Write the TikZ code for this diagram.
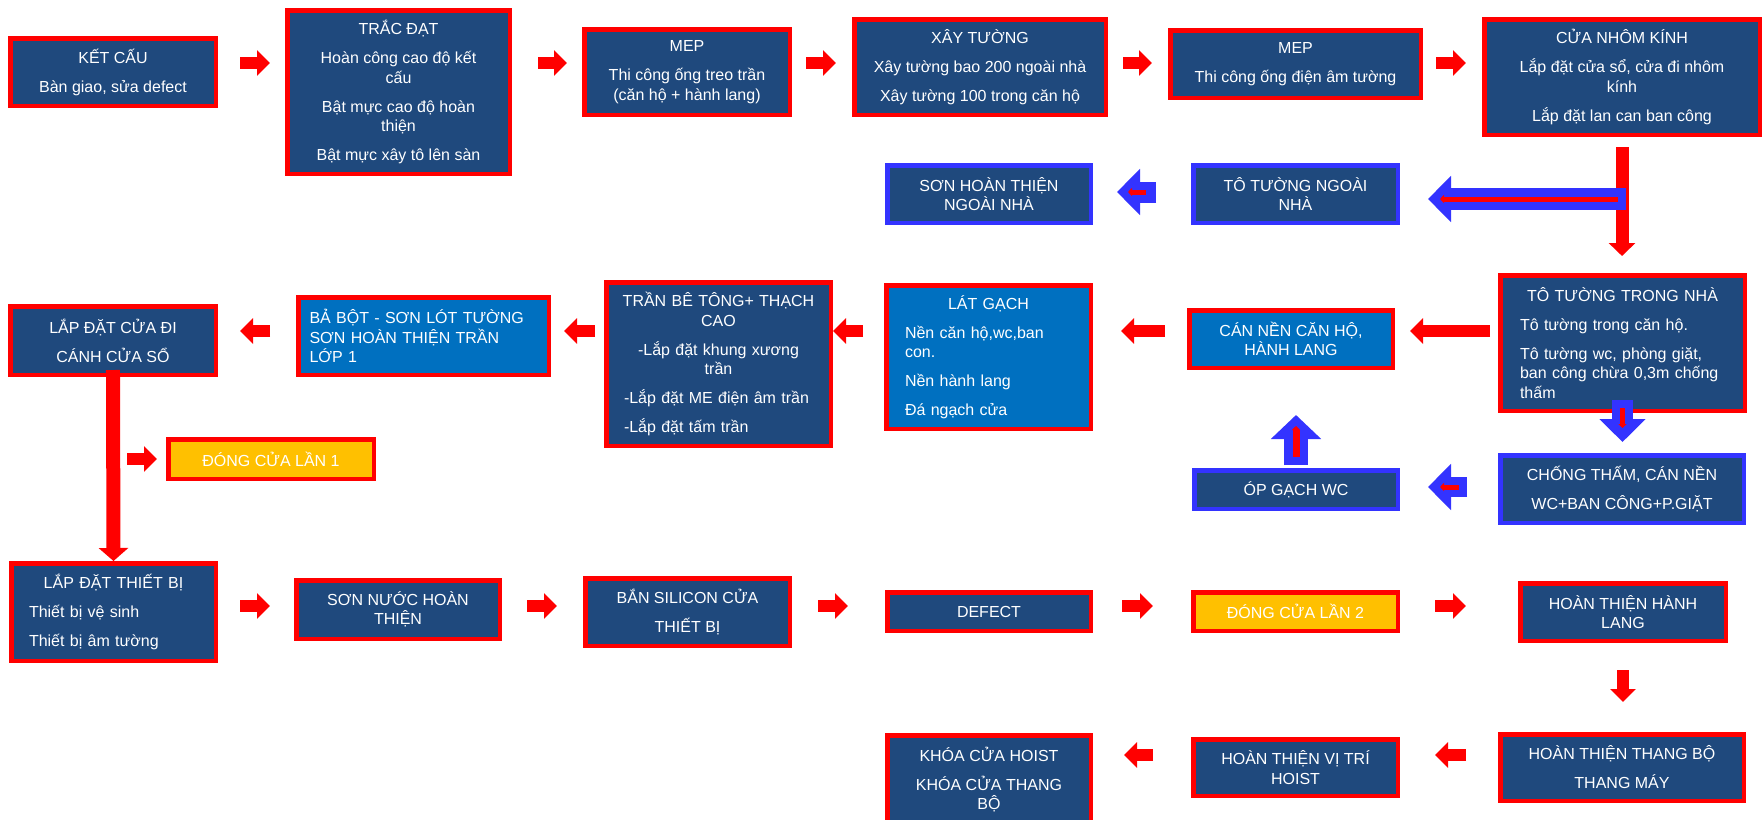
\documentclass[tikz,border=0pt]{standalone}
\usepackage{fontspec}
\setmainfont{Liberation Sans}
\usetikzlibrary{arrows.meta}
\definecolor{boxblue}{RGB}{31,73,125}
\definecolor{boxcyan}{RGB}{0,112,192}
\definecolor{boxyellow}{RGB}{255,192,0}
\definecolor{arrblue}{RGB}{51,51,255}

\begin{document}
\begin{tikzpicture}[x=1pt,y=-1pt,
   box/.style={draw=red,line width=4.5pt,fill=boxblue,text=white,align=center,inner sep=0pt,font=\fontsize{16}{19.5}\selectfont},
   bbox/.style={box,draw=arrblue},
   sz/.style 2 args={minimum width=#1-4.5,minimum height=#2-4.5},
   redarr/.style={draw=red,line width=12pt,-{Triangle[length=13pt,width=25pt]}},
   bluearr/.style={draw=arrblue,line width=21pt,-{Triangle[length=23pt,width=45pt]}},
   redin/.style={draw=red,line width=5pt,-{Triangle[length=4pt,width=8pt]}}]
   \path[use as bounding box,fill=white] (0,0) rectangle (1763,819);

   \node[box,sz={210}{72}] (ketcau) at (113,72) {KẾT CẤU\\[9.5pt]Bàn giao, sửa defect};
   \node[box,sz={227}{168}] (tracdat) at (398.5,92) {TRẮC ĐẠT\\[9.5pt]Hoàn công cao độ kết\\cấu\\[9.5pt]Bật mực cao độ hoàn\\thiện\\[9.5pt]Bật mực xây tô lên sàn};
   \node[box,sz={210}{90}] (mep) at (687,72) {MEP\\[9.5pt]Thi công ống treo trần\\(căn hộ + hành lang)};
   \node[box,sz={256}{100}] (xaytuong) at (980,67) {XÂY TƯỜNG\\[9.5pt]Xây tường bao 200 ngoài nhà\\[9.5pt]Xây tường 100 trong căn hộ};
   \node[box,sz={255}{72}] (mepdien) at (1295.5,64) {MEP\\[9.5pt]Thi công ống điện âm tường};
   \node[box,sz={280}{120}] (cuanhom) at (1622,77) {CỬA NHÔM KÍNH\\[9.5pt]Lắp đặt cửa sổ, cửa đi nhôm\\kính\\[9.5pt]Lắp đặt lan can ban công};

   \node[bbox,sz={208}{62}] (sonngoai) at (989,194) {SƠN HOÀN THIỆN\\NGOÀI NHÀ};
   \node[bbox,sz={209}{62}] (tongoai) at (1295.5,194) {TÔ TƯỜNG NGOÀI\\NHÀ};

   \node[box,sz={210}{73}] (lapcua) at (113,340.5) {LẮP ĐẶT CỬA ĐI\\[9.5pt]CÁNH CỬA SỔ};
   \node[box,sz={255}{82},fill=boxcyan,align=left,text width=228pt] (babot) at (423.5,336) {BẢ BỘT - SƠN LÓT TƯỜNG\\SƠN HOÀN THIỆN TRẦN\\LỚP 1};
   \node[box,sz={229}{168},align=left,text width=189pt] (tranbt) at (718.5,364) {\makebox[\hsize]{TRẦN BÊ TÔNG+ THẠCH}\\\makebox[\hsize]{CAO}\\[9.5pt]\makebox[\hsize]{-Lắp đặt khung xương}\\\makebox[\hsize]{trần}\\[9.5pt]-Lắp đặt ME điện âm trần\\[9.5pt]-Lắp đặt tấm trần};
   \node[box,sz={209}{148},fill=boxcyan,align=left,text width=167pt] (latgach) at (988.5,357) {\makebox[\hsize]{LÁT GẠCH}\\[9.5pt]Nền căn hộ,wc,ban\\con.\\[9.5pt]Nền hành lang\\[9.5pt]Đá ngạch cửa};
   \node[box,sz={208}{62},fill=boxcyan] (cannen) at (1291,339) {CÁN NỀN CĂN HỘ,\\HÀNH LANG};
   \node[box,sz={249}{140},align=left,text width=205pt] (totrong) at (1622.5,343) {\makebox[\hsize]{TÔ TƯỜNG TRONG NHÀ}\\[9.5pt]Tô tường trong căn hộ.\\[9.5pt]Tô tường wc, phòng giặt,\\ban công chừa 0,3m chống\\thấm};

   \node[box,sz={210}{44},fill=boxyellow] (dongcua1) at (271,459) {ĐÓNG CỬA LẦN 1};
   \node[bbox,sz={208}{43}] (opgach) at (1296,489.5) {ÓP GẠCH WC};
   \node[bbox,sz={248}{72}] (chongtham) at (1622,489) {CHỐNG THẤM, CÁN NỀN\\[9.5pt]WC+BAN CÔNG+P.GIẶT};

   \node[box,sz={209}{102},align=left,text width=169pt] (lapthietbi) at (113.5,612) {\makebox[\hsize]{LẮP ĐẶT THIẾT BỊ}\\[9.5pt]Thiết bị vệ sinh\\[9.5pt]Thiết bị âm tường};
   \node[box,sz={208}{63}] (sonnuoc) at (398,609.5) {SƠN NƯỚC HOÀN\\THIỆN};
   \node[box,sz={209}{72}] (silicon) at (687.5,612) {BẮN SILICON CỬA\\[9.5pt]THIẾT BỊ};
   \node[box,sz={208}{43}] (defect) at (989,611.5) {DEFECT};
   \node[box,sz={209}{43},fill=boxyellow] (dongcua2) at (1295.5,611.5) {ĐÓNG CỬA LẦN 2};
   \node[box,sz={210}{62}] (hlang) at (1623,612) {HOÀN THIỆN HÀNH\\LANG};

   \node[box,sz={208}{93}] (khoacua) at (989,779.5) {KHÓA CỬA HOIST\\[9.5pt]KHÓA CỬA THANG\\BỘ};
   \node[box,sz={209}{61}] (hoist) at (1295.5,767.5) {HOÀN THIỆN VỊ TRÍ\\HOIST};
   \node[box,sz={248}{71}] (thangbo) at (1622,767.5) {HOÀN THIỆN THANG BỘ\\[9.5pt]THANG MÁY};

   \coordinate (r1) at (0,63);
   \coordinate (r2) at (0,192);
   \coordinate (r3) at (0,331);
   \coordinate (r4) at (0,487);
   \coordinate (r5) at (0,606);
   \coordinate (r6) at (0,755);
   \coordinate (tach) at (1626,199);

   \draw[redarr,shorten <=22pt,shorten >=15pt] (ketcau.east |- r1) -- (tracdat.west |- r1);
   \draw[redarr,shorten <=26pt,shorten >=15pt] (tracdat.east |- r1) -- (mep.west |- r1);
   \draw[redarr,shorten <=14pt,shorten >=16pt] (mep.east |- r1) -- (xaytuong.west |- r1);
   \draw[redarr,shorten <=15pt,shorten >=16pt] (xaytuong.east |- r1) -- (mepdien.west |- r1);
   \draw[redarr,shorten <=13pt,shorten >=16pt] (mepdien.east |- r1) -- (cuanhom.west |- r1);

   \draw[redarr,line width=13pt,-{Triangle[length=13pt,width=26pt]},shorten <=10pt,shorten >=17pt] (cuanhom.south) -- (cuanhom.south |- totrong.north);
   \draw[bluearr,line width=22pt,shorten >=28pt] (tach) -- (tach -| tongoai.east);
   \draw[redin,shorten <=8pt,shorten >=40pt] (tach) -- (tach -| tongoai.east);
   \draw[bluearr,shorten <=35pt,shorten >=24pt] (tongoai.west |- r2) -- (sonngoai.east |- r2);
   \draw[redin,shorten <=45pt,shorten >=35pt] (tongoai.west |- r2) -- (sonngoai.east |- r2);

   \draw[redarr,shorten <=26pt,shorten >=22pt] (babot.west |- r3) -- (lapcua.east |- r3);
   \draw[redarr,shorten <=9pt,shorten >=13pt] (tranbt.west |- r3) -- (babot.east |- r3);
   \draw[redarr,shorten <=21pt,shorten >=0pt] (latgach.west |- r3) -- (tranbt.east |- r3);
   \draw[redarr,shorten <=22pt,shorten >=28pt] (cannen.west |- r3) -- (latgach.east |- r3);
   \draw[redarr,shorten <=8pt,shorten >=15pt] (totrong.west |- r3) -- (cannen.east |- r3);

   \draw[bluearr,shorten <=-13pt,shorten >=11pt] (totrong.south) -- (totrong.south |- chongtham.north);
   \draw[redin,shorten <=-5pt,shorten >=25pt] (totrong.south) -- (totrong.south |- chongtham.north);
   \draw[bluearr,line width=20pt,shorten <=31pt,shorten >=28pt] (chongtham.west |- r4) -- (opgach.east |- r4);
   \draw[redin,shorten <=39pt,shorten >=40pt] (chongtham.west |- r4) -- (opgach.east |- r4);
   \draw[bluearr,line width=24pt,-{Triangle[length=24pt,width=49pt]},shorten <=3pt,shorten >=45pt] (opgach.north) -- (opgach.north |- cannen.south);
   \draw[redin,line width=7pt,shorten <=11pt,shorten >=56pt] (opgach.north) -- (opgach.north |- cannen.south);

   \draw[redarr,line width=14pt,-{Triangle[length=13pt,width=29pt]},shorten <=-7pt] (lapcua.south) -- (lapthietbi.north);
   \draw[redarr,shorten <=14pt,shorten >=9pt] (lapcua.south |- dongcua1.west) -- (dongcua1.west);

   \draw[redarr,shorten <=22pt,shorten >=24pt] (lapthietbi.east |- r5) -- (sonnuoc.west |- r5);
   \draw[redarr,shorten <=25pt,shorten >=26pt] (sonnuoc.east |- r5) -- (silicon.west |- r5);
   \draw[redarr,shorten <=26pt,shorten >=37pt] (silicon.east |- r5) -- (defect.west |- r5);
   \draw[redarr,shorten <=29pt,shorten >=38pt] (defect.east |- r5) -- (dongcua2.west |- r5);
   \draw[redarr,shorten <=35pt,shorten >=52pt] (dongcua2.east |- r5) -- (hlang.west |- r5);
   \draw[redarr,shorten <=27pt,shorten >=30pt] (hlang.south) -- (hlang.south |- thangbo.north);

   \draw[redarr,shorten <=38pt,shorten >=31pt] (hoist.west |- r6) -- (khoacua.east |- r6);
   \draw[redarr,shorten <=32pt,shorten >=35pt] (thangbo.west |- r6) -- (hoist.east |- r6);
\end{tikzpicture}
\end{document}
